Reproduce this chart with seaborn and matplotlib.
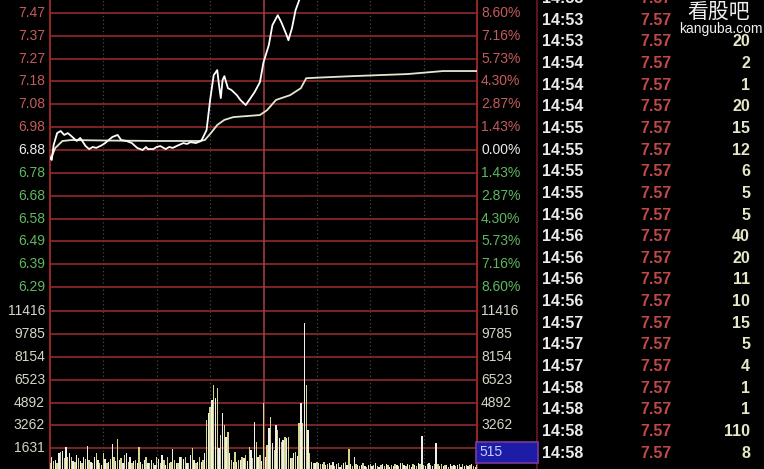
import matplotlib
matplotlib.use("Agg")
import matplotlib.pyplot as plt
import seaborn as sns
import pandas as pd

# ---------------- data ----------------
prev_close = 6.88

price_minute = [0, 1, 2, 4, 6, 8, 10, 12, 15, 17, 20, 22, 24, 26, 29, 31, 33, 35, 38, 40, 43,
                46, 49, 52, 54, 55, 58, 60, 62, 65, 67, 69, 72, 75, 77, 79, 82, 85, 88, 90, 92,
                94, 95, 96, 97, 98, 100, 102, 105, 107, 110, 112, 115, 118, 120, 123, 125, 128,
                130, 133, 134, 136, 138, 141, 142, 240]
price_value = [6.845, 6.837, 6.900, 6.953, 6.962, 6.945, 6.953, 6.940, 6.919, 6.932, 6.897,
               6.884, 6.893, 6.889, 6.900, 6.910, 6.923, 6.936, 6.945, 6.923, 6.919, 6.910,
               6.889, 6.880, 6.893, 6.884, 6.884, 6.893, 6.897, 6.884, 6.893, 6.889, 6.900,
               6.910, 6.906, 6.914, 6.910, 6.919, 6.966, 7.096, 7.203, 7.225, 7.160, 7.104,
               7.182, 7.199, 7.147, 7.139, 7.117, 7.096, 7.074, 7.096, 7.130, 7.173, 7.259,
               7.333, 7.419, 7.462, 7.432, 7.376, 7.354, 7.406, 7.483, 7.547, 7.570, 7.570]

avg_minute = [0, 1, 3, 7, 12, 30, 60, 84, 87, 90, 94, 98, 103, 118, 122, 127, 135, 141, 144,
              152, 170, 201, 221, 240]
avg_value = [6.845, 6.854, 6.889, 6.919, 6.923, 6.921, 6.919, 6.919, 6.923, 6.949, 6.988,
             7.010, 7.022, 7.031, 7.052, 7.096, 7.117, 7.147, 7.190, 7.193, 7.199, 7.208,
             7.221, 7.221]

volume = [
    600, 980, 740, 790, 600, 1270, 1380, 1450, 900, 1740,
    980, 1270, 980, 700, 670, 1150, 910, 700, 550, 980,
    840, 1790, 790, 670, 600, 980, 1270, 790, 600, 430,
    1270, 840, 600, 670, 840, 1930, 980, 700, 2270, 790,
    910, 600, 1150, 1270, 670, 980, 600, 740, 790, 550,
    1740, 670, 500, 790, 980, 550, 600, 790, 550, 430,
    980, 840, 600, 1150, 790, 430, 980, 600, 670, 1550,
    790, 600, 550, 980, 1020, 840, 980, 600, 550, 1150,
    1620, 790, 600, 670, 980, 670, 800, 1270,
    3650, 4130, 4600, 5080, 6160, 5230, 5940, 1620, 2580, 4130, 3290, 2460,
    2810, 1270, 790, 670, 1380, 670, 790, 790, 1020, 910,
    1150, 700, 1740, 1500, 900, 3530, 2100, 1020, 1150, 700,
    4850, 1020, 1860, 3060, 3890, 1980, 1500, 3290, 2940, 2340,
    2100, 2220, 2460, 2340, 2460, 910, 910, 1270, 1380, 1100,
    3410, 4850, 3440, 10570, 6160, 2940, 1270, 670, 550, 600,
    670, 550, 500, 480, 670, 410,
    480, 550, 410, 620, 350, 480, 550, 300, 420, 600,
    670, 400, 1550, 480, 350, 1020,
    520, 400, 330, 450, 600, 380, 300, 420, 500, 350, 450, 560, 380, 300, 420, 480, 350,
    520, 400, 300, 450, 380, 500, 420, 330, 560, 600, 400, 350, 480, 420, 300, 520, 450,
    380, 600, 480,
    2500,
    450, 380, 520, 600, 420, 350, 500,
    1980,
    480, 380, 520, 350, 450, 420, 300, 500, 380, 450, 350, 420, 480, 300, 520, 380, 450,
    350, 420, 500, 380, 300, 450,
]

pct_levels = [8.60, 7.16, 5.73, 4.30, 2.87, 1.43, 0.00, -1.43, -2.87, -4.30, -5.73, -7.16, -8.60]
price_tick_labels = ["7.47", "7.37", "7.27", "7.18", "7.08", "6.98", "6.88",
                     "6.78", "6.68", "6.58", "6.49", "6.39", "6.29"]
pct_tick_labels = ["8.60%", "7.16%", "5.73%", "4.30%", "2.87%", "1.43%", "0.00%",
                   "1.43%", "2.87%", "4.30%", "5.73%", "7.16%", "8.60%"]
vol_levels = [11416, 9785, 8154, 6523, 4892, 3262, 1631]
vol_tick_labels = ["11416", "9785", "8154", "6523", "4892", "3262", "1631"]
current_vol_label = "515"

tick_times = ["14:53", "14:53", "14:53", "14:54", "14:54", "14:54", "14:55", "14:55", "14:55",
              "14:55", "14:56", "14:56", "14:56", "14:56", "14:56", "14:57", "14:57", "14:57",
              "14:58", "14:58", "14:58", "14:58"]
tick_prices = ["7.57"] * 22
tick_vols = ["", "", "20", "2", "1", "20", "15", "12", "6", "5", "5", "40", "20", "11", "10",
             "15", "5", "4", "1", "1", "110", "8"]

# ---------------- style ----------------
sns.set_theme(style="dark", rc={"axes.facecolor": "black", "figure.facecolor": "black",
                                "axes.grid": False})
plt.rcParams['font.family'] = ['Liberation Sans', 'DejaVu Sans']

W, H = 764, 469
fig = plt.figure(figsize=(W / 100, H / 100), dpi=100, facecolor="black")

X0, X1 = 50, 477          # plot area in pixels
Y_ZERO = 150              # 0% line pixel
STEP = 22.83              # pixels per grid step
PCT_STEP = 1.433
PRICE_BOTTOM_PX = 298
VOL_BOTTOM_PX = 471

def pct_at(py):
    return (Y_ZERO - py) / STEP * PCT_STEP

ax_p = fig.add_axes([X0 / W, 1 - PRICE_BOTTOM_PX / H, (X1 - X0) / W, PRICE_BOTTOM_PX / H])
ax_v = fig.add_axes([X0 / W, 1 - VOL_BOTTOM_PX / H, (X1 - X0) / W,
                     (VOL_BOTTOM_PX - PRICE_BOTTOM_PX) / H])

for ax in (ax_p, ax_v):
    ax.set_facecolor("black")
    ax.set_xlim(0, 240)
    ax.set_xticks([])
    ax.set_yticks([])
    for s in ("top", "bottom"):
        ax.spines[s].set_visible(False)
    for s in ("left", "right"):
        ax.spines[s].set_visible(True)
        ax.spines[s].set_color("#9a2626")
        ax.spines[s].set_linewidth(1.4)

ax_p.set_ylim(prev_close * (1 + pct_at(PRICE_BOTTOM_PX) / 100),
              prev_close * (1 + pct_at(0) / 100))
vol_per_px = 1631 / STEP
ax_v.set_ylim(0, (VOL_BOTTOM_PX - PRICE_BOTTOM_PX) * vol_per_px)

grid_red = "#7e2222"
for lvl in pct_levels:
    ax_p.axhline(prev_close * (1 + lvl / 100), color=grid_red, lw=1.4, zorder=0)
for v in vol_levels:
    ax_v.axhline(v, color=grid_red, lw=1.4, zorder=0)
for ax in (ax_p, ax_v):
    for m in (30, 60, 90, 150, 180, 210):
        ax.axvline(m, color="#4a4444", lw=0.9, ls=(0, (1, 2)), zorder=0)
    ax.axvline(120, color="#a84040", lw=1.1, zorder=0)

# lines
sns.lineplot(x=avg_minute, y=avg_value, ax=ax_p, color="#e6e6d0", lw=1.3, zorder=3)
sns.lineplot(x=price_minute, y=price_value, ax=ax_p, color="white", lw=1.3, zorder=4)
ax_p.set_xlim(0, 240)
ax_p.set_xlabel("")
ax_p.set_ylabel("")
ax_p.set_xticks([])
ax_p.set_yticks([])

# volume bars
vdf = pd.DataFrame({"minute": list(range(len(volume))), "volume": volume,
                    "kind": ["a" if i % 2 == 0 else "b" for i in range(len(volume))]})
sns.barplot(data=vdf, x="minute", y="volume", hue="kind", palette=["#d6d68a", "#eeeeee"],
            dodge=False, native_scale=True, width=0.75, legend=False, ax=ax_v,
            linewidth=0, saturation=1, zorder=3)
ax_v.set_xlim(0, 240)
ax_v.set_xlabel("")
ax_v.set_ylabel("")
ax_v.set_xticks([])
ax_v.set_yticks([])

# axis labels
red_lbl, green_lbl, white_lbl, vol_lbl = "#c45c5c", "#5fb85f", "#ececec", "#d6d6c6"
for lvl, plab, qlab in zip(pct_levels, price_tick_labels, pct_tick_labels):
    col = white_lbl if lvl == 0 else (red_lbl if lvl > 0 else green_lbl)
    yv = prev_close * (1 + lvl / 100)
    ax_p.annotate(plab, xy=(45, yv), xycoords=("figure pixels", "data"), ha="right",
                  va="center", color=col, fontsize=10, annotation_clip=False)
    ax_p.annotate(qlab, xy=(481, yv), xycoords=("figure pixels", "data"), ha="left",
                  va="center", color=col, fontsize=10, annotation_clip=False)
for v, lab in zip(vol_levels, vol_tick_labels):
    ax_v.annotate(lab, xy=(45, v), xycoords=("figure pixels", "data"), ha="right",
                  va="center", color=vol_lbl, fontsize=10, annotation_clip=False)
    ax_v.annotate(lab, xy=(481, v), xycoords=("figure pixels", "data"), ha="left",
                  va="center", color=vol_lbl, fontsize=10, annotation_clip=False)

def px(x, y):
    return x / W, 1 - y / H

# current volume box (covers most of the right-hand "1631" label, as in the original)
fig.patches.append(plt.Rectangle(px(476, 463), 62 / W, 21 / H, transform=fig.transFigure,
                                 facecolor="#1c1ca6", edgecolor="#7a3a9a", lw=1.2, zorder=5))
fig.text(*px(479, 452.5), current_vol_label, color="#c8ccff", fontsize=10, ha="left",
         va="center", zorder=6)

# table separator
fig.add_artist(plt.Line2D([537 / W, 537 / W], [0, 1], color="#5a1616", lw=1.5))

# trade table
for i, (t, p, v) in enumerate(zip(tick_times, tick_prices, tick_vols)):
    y = -1.5 + 21.65 * i
    fig.text(*px(542, y), t, color="#ececec", fontsize=11.5, fontweight="bold",
             ha="left", va="center")
    fig.text(*px(672, y), p, color="#c04848", fontsize=11.5, fontweight="bold",
             ha="right", va="center")
    if v:
        fig.text(*px(750, y), v, color="#e6e6c8", fontsize=11.5, fontweight="bold",
                 ha="right", va="center")

# watermark
fig.text(*px(719, 12), "看股吧", color="#f0f0f0", fontsize=15, ha="center", va="center",
         family=["Noto Sans CJK SC", "DejaVu Sans"])
fig.text(*px(721, 28.5), "kanguba.com", color="#f0f0f0", fontsize=10, ha="center",
         va="center")

fig.savefig("out.png", dpi=100, facecolor="black")
